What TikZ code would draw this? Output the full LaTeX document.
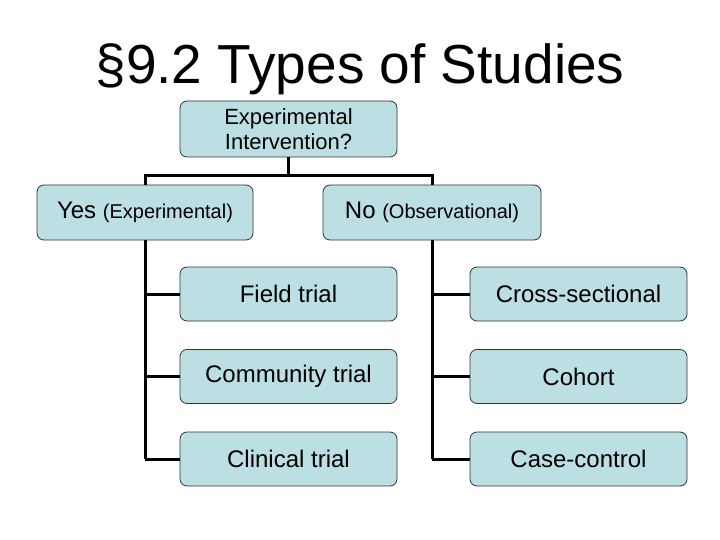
\documentclass[tikz,border=0pt]{standalone}
\usepackage{fontspec}
\setmainfont{Liberation Sans}
\begin{document}
\begin{tikzpicture}[x=1pt,y=-1pt,
  box/.style={draw=black!80,line width=0.8pt,fill={rgb,255:red,188;green,223;blue,227},rounded corners=7pt,inner sep=0pt,align=center,font=\fontsize{24}{24}\selectfont},
  conn/.style={line width=3pt,black}]
\useasboundingbox[fill=white] (0,0) rectangle (720,540);
\node[font=\fontsize{55}{60}\selectfont] (title) at (360,69) {§9.2 Types of Studies};
\node[box,minimum width=217pt,minimum height=56pt,font=\fontsize{22}{25}\selectfont] (top) at (288.5,129) {Experimental\\Intervention?};
\node[box,minimum width=216pt,minimum height=55pt] (yes) at (145,212.5) {Yes {\fontsize{20}{22}\selectfont(Experimental)}};
\node[box,minimum width=218pt,minimum height=55pt] (no) at (432,212.5) {No {\fontsize{20}{22}\selectfont(Observational)}};
\foreach \n/\t/\y in {f/Field trial/294,c/Community trial/376.5,k/Clinical trial/459}
  \node[box,minimum width=217pt,minimum height=54pt] (\n) at (288.5,\y) {\t};
\foreach \n/\t/\y in {s/Cross-sectional/294,h/Cohort/376.5,cc/Case-control/459}
  \node[box,minimum width=217pt,minimum height=54pt] (\n) at (578.5,\y) {\t};
\coordinate (j) at (288.5,176);
\coordinate (jl) at (145,176);
\coordinate (jr) at (432,176);
\coordinate (ll) at (145,459);
\coordinate (rl) at (432,459);
\draw[conn] (top.south) -- (j);
\draw[conn] (yes.north) -- (jl) -- (jr) -- (no.north);
\draw[conn] (yes.south) -- (ll);
\draw[conn] (no.south) -- (rl);
\foreach \n in {f,c,k} \draw[conn] (\n.west) -- (jl |- \n.west);
\foreach \n in {s,h,cc} \draw[conn] (\n.west) -- (jr |- \n.west);
\end{tikzpicture}
\end{document}
